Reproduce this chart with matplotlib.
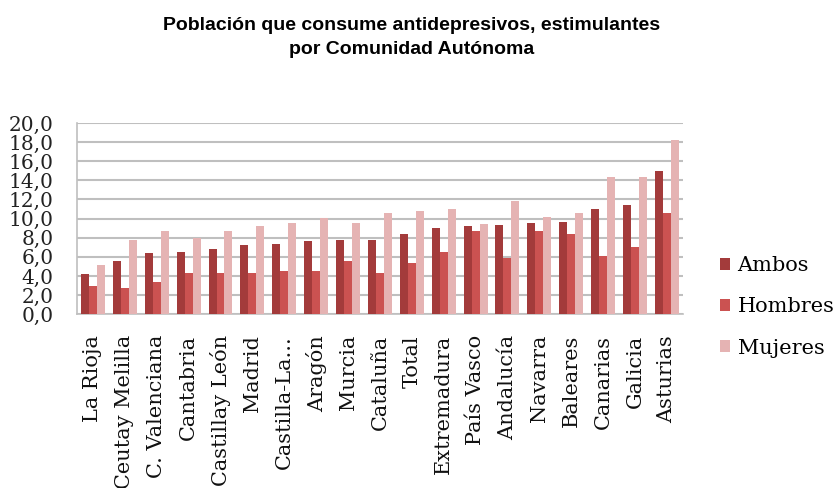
import numpy as np
import matplotlib
matplotlib.use("Agg")
import matplotlib.pyplot as plt
from matplotlib.ticker import FuncFormatter

regiones = ["La Rioja", "Ceutay Melilla", "C. Valenciana", "Cantabria", "Castillay León",
            "Madrid", "Castilla-La...", "Aragón", "Murcia", "Cataluña", "Total",
            "Extremadura", "País Vasco", "Andalucía", "Navarra", "Baleares",
            "Canarias", "Galicia", "Asturias"]
ambos = [4.2, 5.6, 6.4, 6.5, 6.8, 7.2, 7.3, 7.7, 7.8, 7.8, 8.4,
         9.0, 9.2, 9.3, 9.5, 9.6, 11.0, 11.4, 15.0]
hombres = [3.0, 2.7, 3.4, 4.3, 4.3, 4.3, 4.5, 4.5, 5.6, 4.3, 5.4,
           6.5, 8.7, 5.9, 8.7, 8.4, 6.1, 7.0, 10.6]
mujeres = [5.1, 7.8, 8.7, 8.0, 8.7, 9.2, 9.5, 10.1, 9.5, 10.6, 10.8,
           11.0, 9.4, 11.8, 10.2, 10.6, 14.4, 14.4, 18.2]
series = ["Ambos", "Hombres", "Mujeres"]
colores = ["#A33B3B", "#CB5251", "#E5B3B3"]

fig = plt.figure(figsize=(8.39, 4.88), dpi=100)
ax = fig.add_axes([0.0918, 0.356, 0.722, 0.392])

x = np.arange(len(regiones))
w = 0.25
for i, (vals, nombre) in enumerate(zip([ambos, hombres, mujeres], series)):
    ax.bar(x + (i - 1) * w, vals, w, color=colores[i], label=nombre, zorder=3)

ax.set_xlim(-0.5, len(regiones) - 0.5)
ax.set_ylim(0, 20)
ax.set_yticks(np.arange(0, 21, 2))
ax.yaxis.set_major_formatter(FuncFormatter(lambda v, p: f"{v:.1f}".replace(".", ",")))
ax.grid(axis="y", color="#BFBFBF", linewidth=1.5, zorder=0)
for s in ["top", "right"]:
    ax.spines[s].set_visible(False)
for s in ["left", "bottom"]:
    ax.spines[s].set_color("#BFBFBF")
    ax.spines[s].set_linewidth(1.2)
ax.tick_params(axis="y", length=0, pad=17, labelsize=14.5, labelcolor="#222222")
ax.tick_params(axis="x", length=0, pad=15)
for t in ax.get_yticklabels():
    t.set_family("DejaVu Serif")
ax.set_xticks(x)
ax.set_xticklabels(regiones, rotation=90, family="DejaVu Serif", fontsize=15, color="#111111")

leg = ax.legend(loc="center left", bbox_to_anchor=(0.858, 0.371), bbox_transform=fig.transFigure,
                frameon=False, borderpad=0, borderaxespad=0,
                prop={"family": "DejaVu Serif", "size": 15}, handlelength=0.5,
                handleheight=0.5, handletextpad=0.35, labelspacing=1.07)

fig.text(0.491, 0.966, "Población que consume antidepresivos, estimulantes\npor Comunidad Autónoma",
         ha="center", va="top", fontsize=14, fontweight="bold",
         family=["Liberation Sans Narrow", "Liberation Sans", "DejaVu Sans"], linespacing=1.6)

fig.savefig("out.png", dpi=100)
